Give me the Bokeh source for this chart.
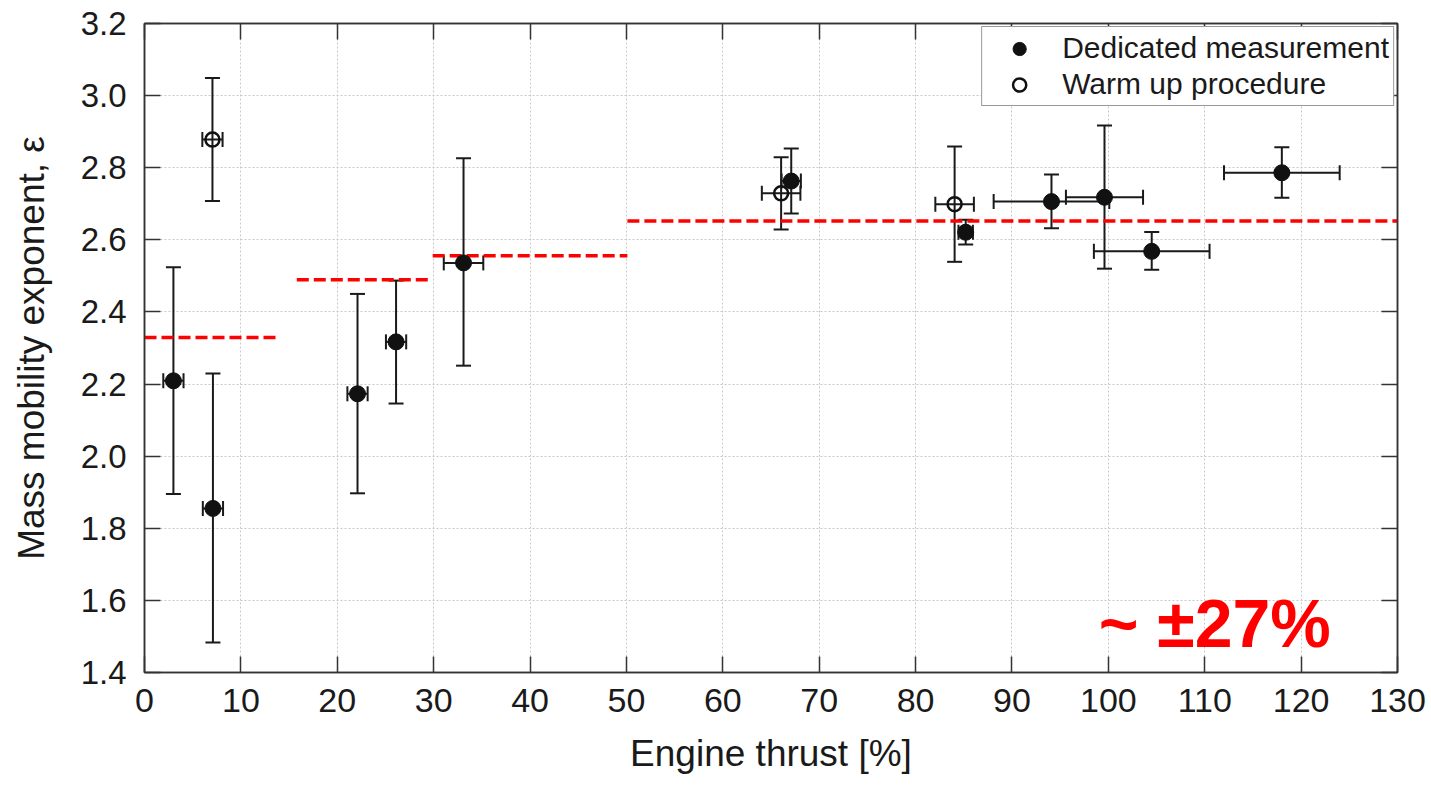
from bokeh.plotting import figure
from bokeh.models import (Whisker, TeeHead, ColumnDataSource, LinearAxis, FixedTicker,
                          Range1d, Legend, LegendItem, Label)
from bokeh.embed import file_html
from bokeh.resources import INLINE

# ---- data ----
ded_x = [3.0, 7.1, 22.1, 26.1, 33.1, 67.1, 85.2, 94.1, 99.6, 104.5, 118.0]
ded_y = [2.209, 1.855, 2.173, 2.317, 2.536, 2.763, 2.621, 2.706, 2.718, 2.568, 2.786]
ded_ylo = [1.895, 1.483, 1.897, 2.146, 2.251, 2.673, 2.587, 2.632, 2.520, 2.517, 2.717]
ded_yhi = [2.524, 2.229, 2.450, 2.487, 2.826, 2.853, 2.656, 2.781, 2.917, 2.622, 2.857]
ded_xerr = [1.05, 1.05, 1.05, 1.05, 2.05, 1.0, 0.75, 6.0, 4.0, 6.0, 6.0]

warm_x = [7.05, 66.05, 84.05]
warm_y = [2.878, 2.729, 2.699]
warm_ylo = [2.708, 2.629, 2.539]
warm_yhi = [3.049, 2.829, 2.859]
warm_xerr = [1.05, 2.0, 2.0]

avg_x0 = [0.0, 15.8, 29.9, 50.1]
avg_x1 = [14.1, 29.9, 50.1, 130.0]
avg_y = [2.329, 2.489, 2.556, 2.652]

x_ticks = list(range(0, 131, 10))
y_ticks = [1.4, 1.6, 1.8, 2.0, 2.2, 2.4, 2.6, 2.8, 3.0, 3.2]

note_text = "~ \u00b127%"
note_x, note_y = 99.0, 1.536

FONT = "Liberation Sans"
DARK = "#1a1a1a"

p = figure(width=1431, height=787, x_range=Range1d(0, 130), y_range=Range1d(1.4, 3.2),
           output_backend="svg", toolbar_location=None,
           min_border_left=144, min_border_right=34, min_border_top=23, min_border_bottom=115)
p.background_fill_color = "white"
p.border_fill_color = "white"
p.outline_line_color = "#333333"
p.outline_line_width = 1.5

# grid
for g in (p.xgrid, p.ygrid):
    g.grid_line_color = "#c8c8c8"
    g.grid_line_dash = "2 2"
    g.grid_line_width = 1
p.xgrid.ticker = FixedTicker(ticks=x_ticks)
p.ygrid.ticker = FixedTicker(ticks=y_ticks)

def style_axis(ax, show_labels=True):
    ax.major_tick_in = 16
    ax.major_tick_out = 0
    ax.minor_tick_in = 0
    ax.minor_tick_out = 0
    ax.major_tick_line_color = "#333333"
    ax.major_tick_line_width = 1.5
    ax.axis_line_color = "#333333"
    ax.axis_line_width = 1.5
    if not show_labels:
        ax.major_label_text_font_size = "0px"
        ax.major_label_text_color = None

xa = p.xaxis[0]
ya = p.yaxis[0]
xa.ticker = FixedTicker(ticks=x_ticks)
ya.ticker = FixedTicker(ticks=y_ticks)
style_axis(xa)
style_axis(ya)
xa.major_label_overrides = {t: str(t) for t in x_ticks}
ya.major_label_overrides = {t: f"{t:.1f}" for t in y_ticks}
xa.major_label_text_font = FONT
ya.major_label_text_font = FONT
xa.major_label_text_font_size = "34px"
ya.major_label_text_font_size = "33px"
xa.major_label_text_color = DARK
ya.major_label_text_color = DARK
xa.major_label_standoff = 16
ya.major_label_standoff = 18
xa.axis_label = "Engine thrust [%]"
ya.axis_label = "Mass mobility exponent, \u03b5"
for ax in (xa, ya):
    ax.axis_label_text_font = FONT
    ax.axis_label_text_font_size = "37px"
    ax.axis_label_text_font_style = "normal"
    ax.axis_label_text_color = DARK
xa.axis_label_standoff = 18
ya.axis_label_standoff = 26

top = LinearAxis(ticker=FixedTicker(ticks=x_ticks))
style_axis(top, show_labels=False)
right = LinearAxis(ticker=FixedTicker(ticks=y_ticks))
style_axis(right, show_labels=False)
p.add_layout(top, "above")
p.add_layout(right, "right")

# average lines
p.segment(x0=avg_x0, y0=avg_y, x1=avg_x1, y1=avg_y, line_color="#ff0000",
          line_width=3.5, line_dash="12 5")

# error bars
src_d = ColumnDataSource(dict(x=ded_x, y=ded_y, ylo=ded_ylo, yhi=ded_yhi,
                              xlo=[a - b for a, b in zip(ded_x, ded_xerr)],
                              xhi=[a + b for a, b in zip(ded_x, ded_xerr)]))
src_w = ColumnDataSource(dict(x=warm_x, y=warm_y, ylo=warm_ylo, yhi=warm_yhi,
                              xlo=[a - b for a, b in zip(warm_x, warm_xerr)],
                              xhi=[a + b for a, b in zip(warm_x, warm_xerr)]))

def head():
    return TeeHead(size=15, line_width=2, line_color=DARK)

for src in (src_d, src_w):
    p.add_layout(Whisker(source=src, base="x", lower="ylo", upper="yhi", dimension="height",
                         line_color=DARK, line_width=2, upper_head=head(), lower_head=head()))
    p.add_layout(Whisker(source=src, base="y", lower="xlo", upper="xhi", dimension="width",
                         line_color=DARK, line_width=2, upper_head=head(), lower_head=head()))

r_d = p.scatter("x", "y", source=src_d, size=16, marker="circle", fill_color="#111111",
                line_color="#111111")
r_w = p.scatter("x", "y", source=src_w, size=14, marker="circle", fill_color=None,
                line_color="#111111", line_width=2.5)

legend = Legend(items=[LegendItem(label="Dedicated measurement", renderers=[r_d]),
                       LegendItem(label="Warm up procedure", renderers=[r_w])],
                location="top_right")
legend.margin = 3
legend.padding = 4
legend.spacing = 2
legend.glyph_width = 66
legend.glyph_height = 33
legend.label_height = 33
legend.label_standoff = 10
legend.label_text_font = FONT
legend.label_text_font_size = "30px"
legend.label_text_color = DARK
legend.border_line_color = "#333333"
legend.border_line_width = 1.5
legend.background_fill_alpha = 1.0
p.add_layout(legend)

p.add_layout(Label(x=note_x, y=note_y, text=note_text, text_font=FONT,
                   text_font_size="68px", text_font_style="bold", text_color="#ff0000",
                   text_baseline="alphabetic", text_align="left"))

open("out.html", "w").write(file_html(p, INLINE))
